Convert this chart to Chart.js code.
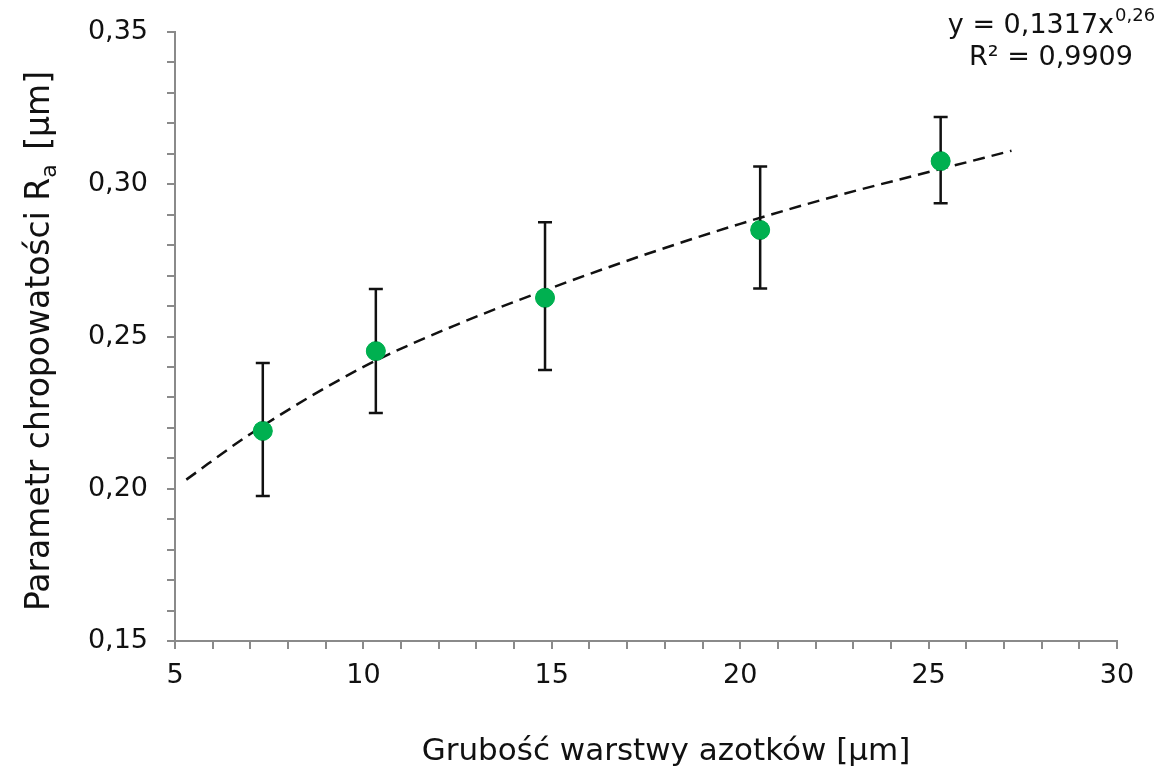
<!DOCTYPE html>
<html>
<head>
<meta charset="utf-8">
<script src="https://cdn.jsdelivr.net/npm/chart.js@4/dist/chart.umd.min.js"></script>
<style>
  html, body { margin: 0; padding: 0; background: #fff; }
  #wrap { width: 1160px; height: 773px; }
</style>
</head>
<body>
<div id="wrap"><canvas id="chart"></canvas></div>
<script>
/* =========================================================
   DATA
========================================================= */

const thickness = [7.33, 10.33, 14.82, 20.53, 25.32];
const roughness = [0.219, 0.2452, 0.2627, 0.285, 0.3076];
const errLow = [0.1976, 0.2249, 0.239, 0.2658, 0.2938];
const errHigh = [0.2413, 0.2656, 0.2875, 0.3058, 0.3221];

// fitted power trend line
const trendX = [5.3, 7, 10, 12.5, 15, 17.5, 20, 22.5, 25, 27.2];
const trendY = [0.203, 0.218, 0.240, 0.254, 0.266, 0.277, 0.287, 0.296, 0.304, 0.311];

const xTitle = "Grubość warstwy azotków [µm]";
const yTitleMain = "Parametr chropowatości R";
const yTitleSub = "a";
const yTitleTail = " [µm]";
const fitEquation = "y = 0,1317x";
const fitExponent = "0,26";
const fitR2 = "R² = 0,9909";

/* =========================================================
   CONFIG
========================================================= */

const FONT = "'DejaVu Sans', Verdana, sans-serif";
const AXIS_GRAY = "#8a8a8a";
const GREEN = "#00b050";

const PLOT_LEFT = 175;
const PLOT_BOTTOM = 641;

/* =========================================================
   PLUGINS
========================================================= */

const errorBars = {
  id: "errorBars",
  afterDatasetsDraw(chart) {
    const { ctx, scales } = chart;
    ctx.save();
    ctx.strokeStyle = "#111";
    ctx.lineWidth = 2.5;
    thickness.forEach((x, i) => {
      const px = scales.x.getPixelForValue(x);
      const top = scales.y.getPixelForValue(errHigh[i]);
      const bot = scales.y.getPixelForValue(errLow[i]);
      ctx.beginPath();
      ctx.moveTo(px, top);
      ctx.lineTo(px, bot);
      ctx.moveTo(px - 7, top);
      ctx.lineTo(px + 7, top);
      ctx.moveTo(px - 7, bot);
      ctx.lineTo(px + 7, bot);
      ctx.stroke();
    });
    ctx.restore();

    // redraw markers over the bars
    const meta = chart.getDatasetMeta(1);
    ctx.save();
    ctx.fillStyle = GREEN;
    meta.data.forEach((pt) => {
      ctx.beginPath();
      ctx.arc(pt.x, pt.y, 9.5, 0, Math.PI * 2);
      ctx.fill();
    });
    ctx.restore();
  }
};

const textBits = {
  id: "textBits",
  afterDraw(chart) {
    const { ctx } = chart;
    ctx.save();
    ctx.fillStyle = "#111";
    ctx.textBaseline = "alphabetic";

    // x axis title
    ctx.font = `31px ${FONT}`;
    ctx.textAlign = "center";
    ctx.fillText(xTitle, 666, 760);
    ctx.textAlign = "left";

    // y axis title with subscript
    const big = `33px ${FONT}`;
    const small = `22px ${FONT}`;
    ctx.font = big;
    const w1 = ctx.measureText(yTitleMain).width;
    const w3 = ctx.measureText(yTitleTail).width;
    ctx.font = small;
    const w2 = ctx.measureText(yTitleSub).width;
    const total = w1 + w2 + w3;
    ctx.translate(49, 343);
    ctx.rotate(-Math.PI / 2);
    let x = -total / 2;
    ctx.font = big;
    ctx.fillText(yTitleMain, x, 0);
    x += w1;
    ctx.font = small;
    ctx.fillText(yTitleSub, x, 7);
    x += w2 + 4;
    ctx.font = big;
    ctx.fillText(yTitleTail, x, 0);
    ctx.setTransform(1, 0, 0, 1, 0, 0);

    // fit annotation
    const cx = 1051;
    ctx.font = `27px ${FONT}`;
    const e1 = ctx.measureText(fitEquation).width;
    ctx.font = `18px ${FONT}`;
    const e2 = ctx.measureText(fitExponent).width;
    const ex = cx - (e1 + e2) / 2;
    ctx.font = `27px ${FONT}`;
    ctx.fillText(fitEquation, ex, 33);
    ctx.font = `18px ${FONT}`;
    ctx.fillText(fitExponent, ex + e1 + 1, 21);
    ctx.font = `27px ${FONT}`;
    ctx.textAlign = "center";
    ctx.fillText(fitR2, cx, 65);
    ctx.restore();
  }
};

/* =========================================================
   CHART
========================================================= */

const tickFont = { family: FONT, size: 27 };

new Chart(document.getElementById("chart"), {
  type: "scatter",
  data: {
    datasets: [
      {
        label: "Trend",
        data: trendX.map((x, i) => ({ x, y: trendY[i] })),
        showLine: true,
        borderColor: "#111",
        borderWidth: 2.5,
        borderDash: [12, 7],
        pointRadius: 0,
        cubicInterpolationMode: "monotone",
        order: 2
      },
      {
        label: "Ra",
        data: thickness.map((x, i) => ({ x, y: roughness[i] })),
        backgroundColor: GREEN,
        borderColor: GREEN,
        pointRadius: 9.5,
        pointHoverRadius: 9.5,
        order: 1
      }
    ]
  },
  options: {
    responsive: true,
    maintainAspectRatio: false,
    animation: false,
    events: [],
    layout: { padding: { left: 0, right: 43, top: 32, bottom: 0 } },
    plugins: {
      legend: { display: false },
      tooltip: { enabled: false }
    },
    scales: {
      x: {
        type: "linear",
        min: 5,
        max: 30,
        grid: {
          drawOnChartArea: false,
          color: AXIS_GRAY,
          lineWidth: 2,
          tickLength: 8
        },
        border: { color: AXIS_GRAY, width: 2 },
        ticks: {
          stepSize: 1,
          autoSkip: false,
          maxRotation: 0,
          padding: 11,
          color: "#111",
          font: tickFont,
          callback: (v) => (v % 5 === 0 ? String(v) : "")
        },
        afterFit(scale) {
          scale.height = 773 - PLOT_BOTTOM;
          scale.paddingLeft = 0;
          scale.paddingRight = 0;
        }
      },
      y: {
        type: "linear",
        min: 0.15,
        max: 0.35,
        grid: {
          drawOnChartArea: false,
          color: AXIS_GRAY,
          lineWidth: 2,
          tickLength: 8
        },
        border: { color: AXIS_GRAY, width: 2 },
        ticks: {
          stepSize: 0.01,
          autoSkip: false,
          padding: 19,
          color: "#111",
          font: tickFont,
          callback: (v) => {
            const c = Math.round(v * 100);
            return c % 5 === 0 ? (c / 100).toFixed(2).replace(".", ",") : "";
          }
        },
        afterFit(scale) {
          scale.width = PLOT_LEFT;
          scale.paddingTop = 0;
          scale.paddingBottom = 0;
        }
      }
    }
  },
  plugins: [errorBars, textBits]
});
</script>
</body>
</html>
